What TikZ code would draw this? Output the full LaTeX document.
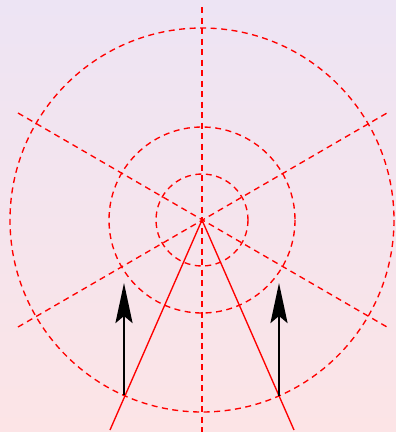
\documentclass[tikz,border=0pt]{standalone}
\usetikzlibrary{arrows.meta}
\definecolor{bgtop}{RGB}{237,228,244}
\definecolor{bgbot}{RGB}{252,228,230}
\begin{document}
\begin{tikzpicture}[x=1pt,y=-1pt,
  guide/.style={red,line width=1.35pt,dash pattern=on 6pt off 4.5pt},
  ray/.style={red,line width=1.35pt},
  force/.style={black,line width=2.8pt,-{Stealth[length=40pt,width=17pt,inset=7pt]}}]
\shade[top color=bgtop,bottom color=bgbot] (0,0) rectangle (396,432);
\useasboundingbox (0,0) rectangle (396,432);
\coordinate (O) at (202,220);
\coordinate (vt) at (202,7);
\coordinate (vb) at (202,432);
\coordinate (d1) at (18,113);
\coordinate (d2) at (387,327);
\coordinate (d3) at (18,327);
\coordinate (d4) at (387,113);
\coordinate (rl) at (110,430);
\coordinate (rr) at (294,430);
\coordinate (al0) at (124,395);
\coordinate (al1) at (124,283);
\coordinate (ar0) at (279,396);
\coordinate (ar1) at (279,283);
\draw[guide] (O) circle[radius=46];
\draw[guide] (O) circle[radius=93];
\draw[guide] (O) circle[radius=192];
\draw[guide] (vt) -- (vb);
\draw[guide] (d1) -- (d2);
\draw[guide] (d3) -- (d4);
\draw[ray] (O) -- (rl);
\draw[ray] (O) -- (rr);
\draw[force] (al0) -- (al1);
\draw[force] (ar0) -- (ar1);
\end{tikzpicture}
\end{document}
